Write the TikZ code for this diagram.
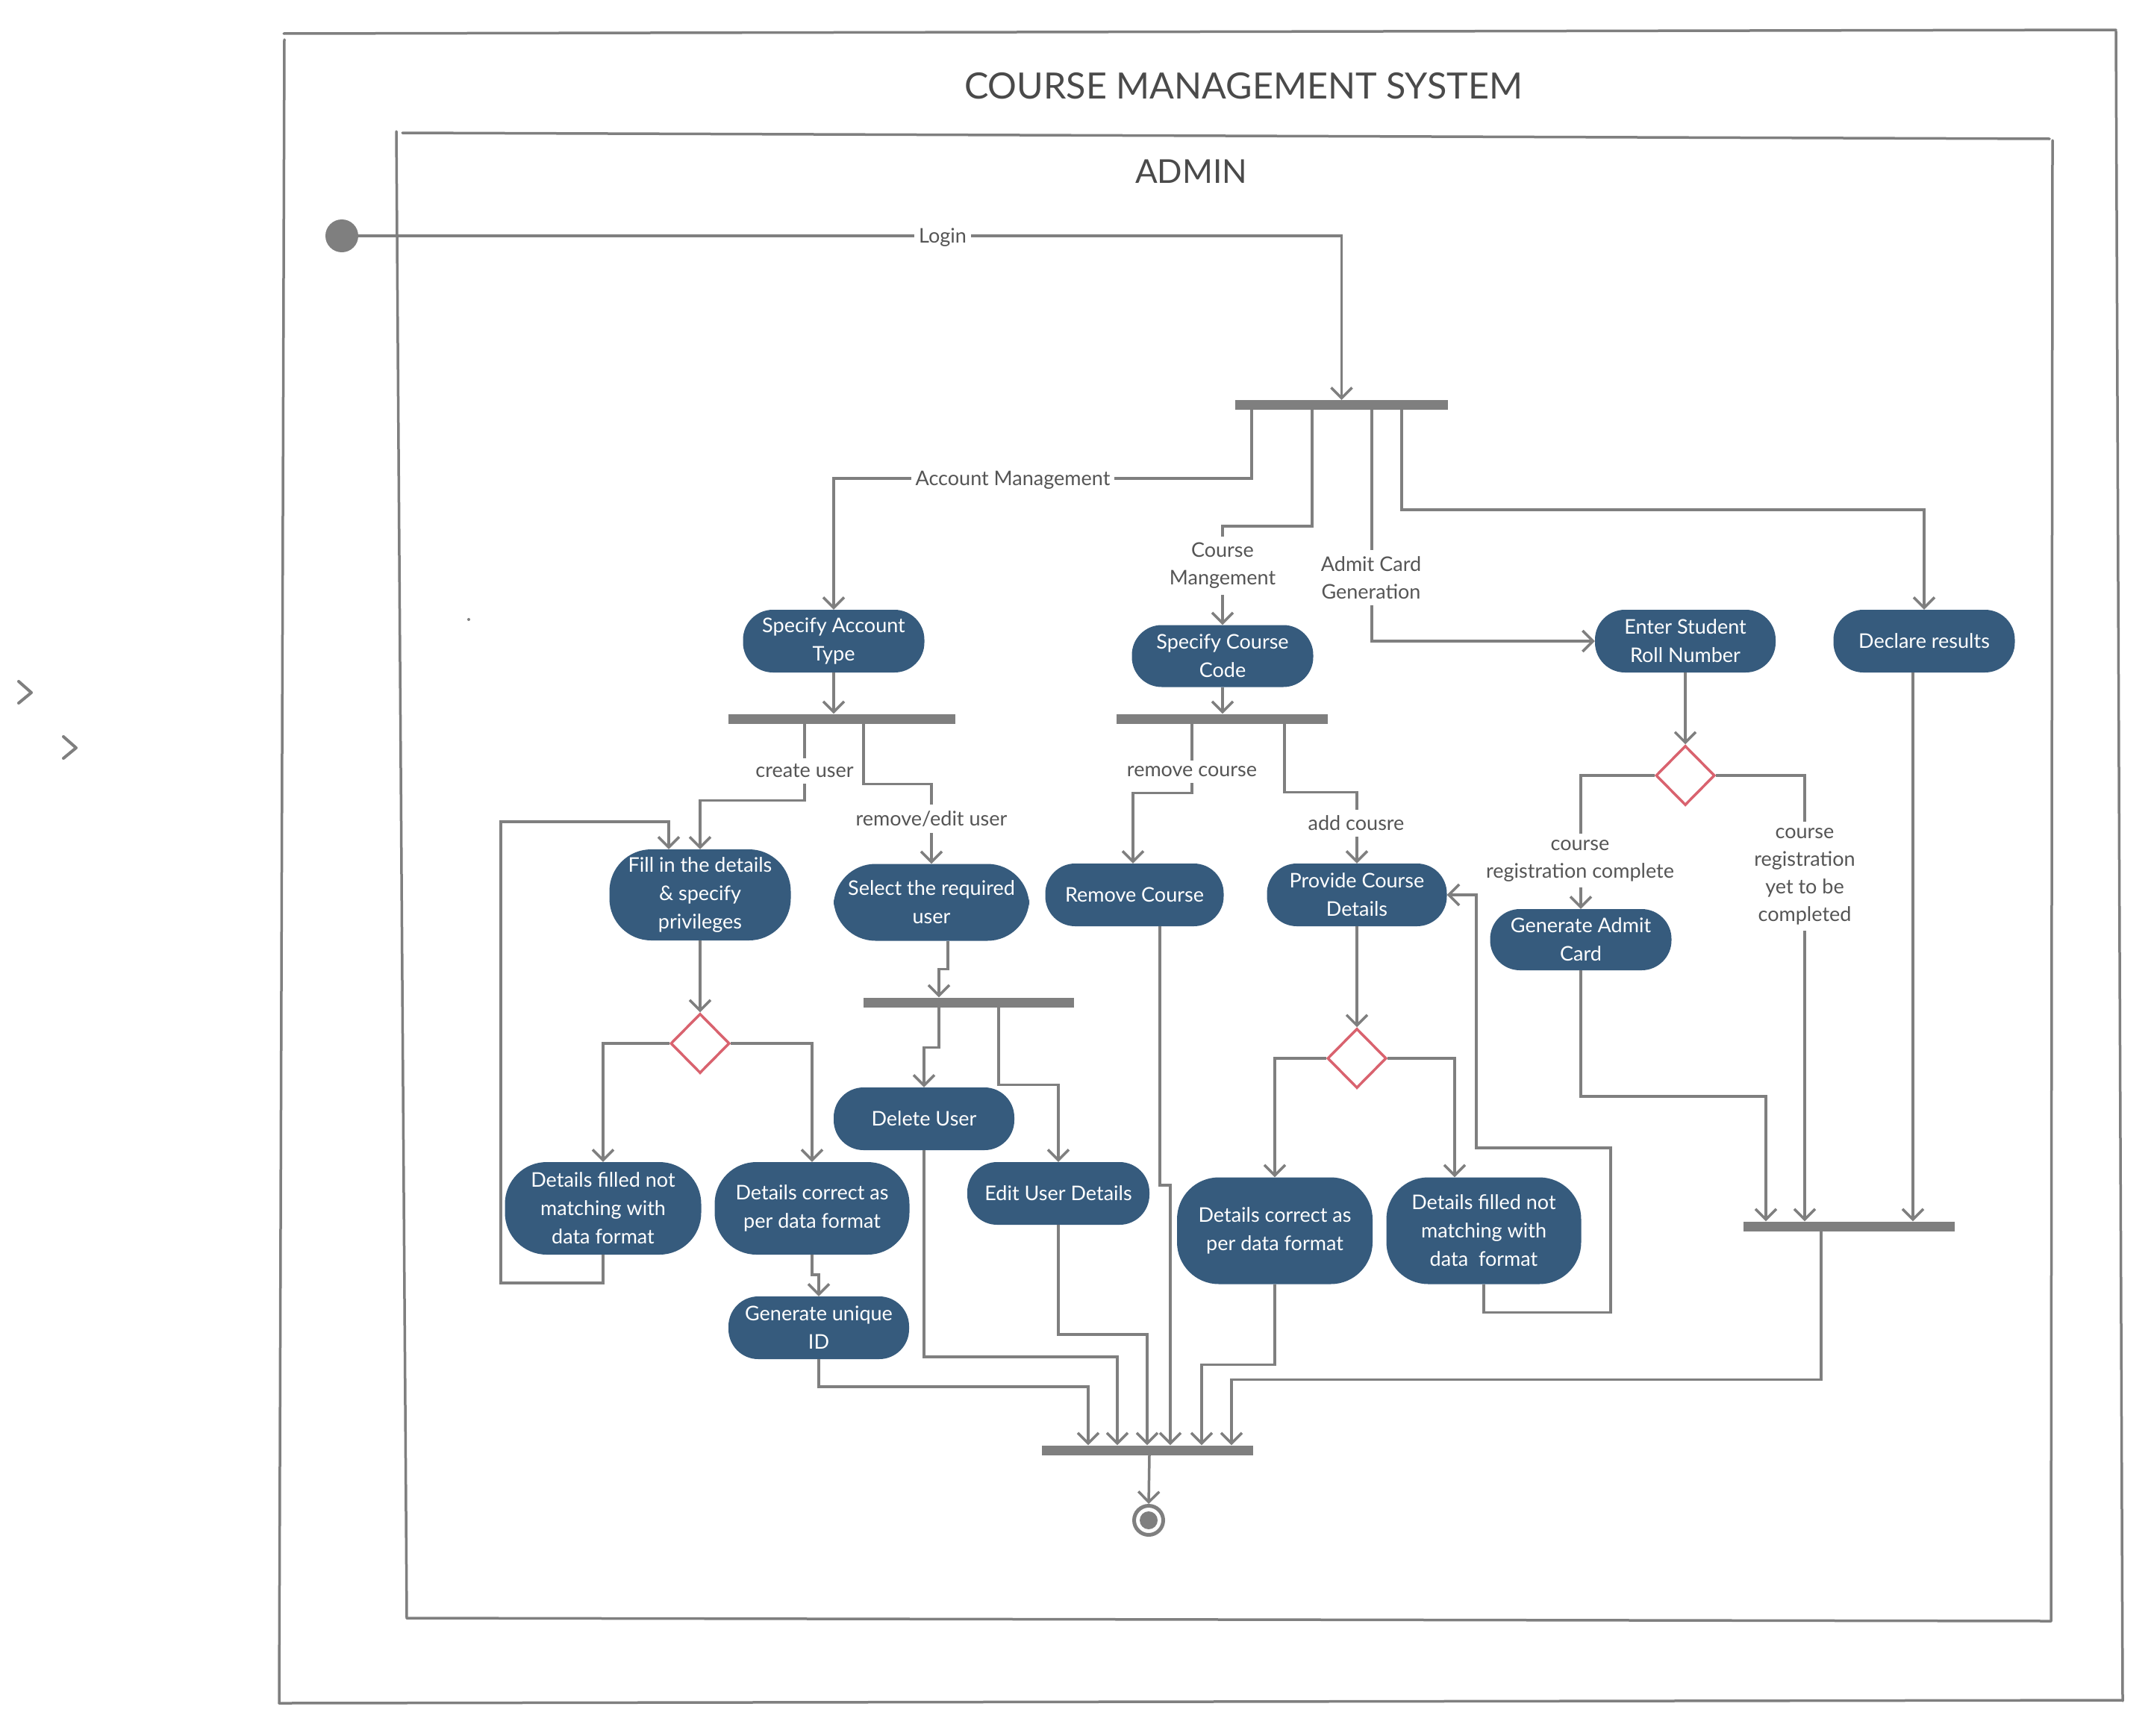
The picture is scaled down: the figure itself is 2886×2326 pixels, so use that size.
\documentclass[tikz,border=0pt]{standalone}
\usepackage{fontspec}
\setmainfont{Lato}
\usetikzlibrary{arrows.meta,shapes.geometric}
\definecolor{nblue}{HTML}{365B7D}
\definecolor{lgray}{HTML}{7F7F7F}
\definecolor{dred}{HTML}{D9636F}
\definecolor{tgray}{HTML}{4A4A4A}
\definecolor{lblgray}{HTML}{555555}
\begin{document}
\begin{tikzpicture}[x=1pt,y=-1pt,
  frame/.style={draw=lgray,line width=3.5pt,line cap=round},
  conn/.style={draw=lgray,line width=3.5pt},
  arr/.style={conn,-{Straight Barb[length=14pt,width=28pt]}},
  act/.style={fill=nblue,text=white,rounded corners=40pt,align=center,inner sep=0pt,
    font=\fontsize{27}{38}\selectfont},
  actbig/.style={act,rounded corners=56pt},
  bar/.style={fill=lgray,inner sep=0pt,minimum height=13pt},
  dec/.style={diamond,draw=dred,line width=3.5pt,fill=white,inner sep=0pt,minimum width=79pt,minimum height=80pt},
  lbl/.style={fill=white,text=lblgray,align=center,inner xsep=6pt,inner ysep=8pt,
    font=\fontsize{27}{37}\selectfont},
  chev/.style={draw=lgray,line width=4pt,line cap=round,line join=round}]
\useasboundingbox (0,0) rectangle (2886,2326);

% frames
\draw[frame] (380,45) -- (2835,40);
\draw[frame] (381,53) -- (374,2282);
\draw[frame] (2835,42) -- (2844,2279);
\draw[frame] (374,2282) -- (2844,2278);
\draw[frame] (539,178) -- (2746,186);
\draw[frame] (531,176) -- (545,2168);
\draw[frame] (2750,188) -- (2748,2172);
\draw[frame] (545,2168) -- (2748,2172);

\node[text=tgray,font=\fontsize{48.5}{58}\selectfont,inner sep=0pt] (title) at (1666,115) {COURSE MANAGEMENT SYSTEM};
\node[text=tgray,font=\fontsize{44}{52}\selectfont,inner sep=0pt] (admin) at (1596,230) {ADMIN};

% chevrons and stray dot
\draw[chev] (25,913) -- (42,928) -- (25,942);
\draw[chev] (85,987) -- (102,1002) -- (85,1016);
\fill[lgray] (628,830) circle (2pt);

% nodes
\node[circle,fill=lgray,minimum size=44pt,inner sep=0pt] (start) at (458,316) {};
\node[bar,minimum width=285pt] (bar1) at (1797.5,542.5) {};
\node[act,minimum width=243pt,minimum height=84pt] (spa) at (1117,859) {Specify Account\\Type};
\node[act,minimum width=243pt,minimum height=83pt] (scc) at (1638,879) {Specify Course\\Code};
\node[act,minimum width=242pt,minimum height=84pt] (esr) at (2258,859) {Enter Student\\Roll Number};
\node[act,minimum width=243pt,minimum height=84pt] (dres) at (2578,859) {Declare results};
\node[bar,minimum width=304pt] (bar2) at (1128,963) {};
\node[bar,minimum width=283pt] (bar3) at (1637.5,963) {};
\node[actbig,minimum width=243pt,minimum height=122pt] (fill) at (938,1199) {Fill in the details\\\& specify\\privileges};
\node[actbig,minimum width=262pt,minimum height=103pt] (sel) at (1248,1209) {Select the required\\user};
\node[act,minimum width=239pt,minimum height=84pt] (rmc) at (1520,1199) {Remove Course};
\node[act,minimum width=241pt,minimum height=84pt] (pcd) at (1818,1199) {Provide Course\\Details};
\node[dec] (dia3) at (2258,1039) {};
\node[act,minimum width=243pt,minimum height=82pt] (gac) at (2118,1259) {Generate Admit\\Card};
\node[bar,minimum width=282pt] (bar6) at (1298,1343) {};
\node[dec] (dia1) at (938,1398) {};
\node[dec] (dia2) at (1818,1418) {};
\node[act,minimum width=242pt,minimum height=84pt] (dul) at (1238,1499) {Delete User};
\node[act,minimum width=244pt,minimum height=84pt] (eud) at (1418,1599) {Edit User Details};
\node[actbig,minimum width=263pt,minimum height=124pt] (dfn1) at (808,1619) {Details filled not\\matching with\\data format};
\node[actbig,minimum width=261pt,minimum height=124pt] (dc1) at (1088,1619) {Details correct as\\per data format};
\node[act,minimum width=242pt,minimum height=84pt] (gui) at (1097,1779) {Generate unique\\ID};
\node[actbig,minimum width=262pt,minimum height=143pt] (dc2) at (1708,1649) {Details correct as\\per data format};
\node[actbig,minimum width=261pt,minimum height=143pt] (dfn2) at (1988,1649) {Details filled not\\matching with\\data~~format};
\node[bar,minimum width=283pt] (bar4) at (2477.5,1643) {};
\node[bar,minimum width=283pt] (bar5) at (1537.5,1943) {};
\node[circle,draw=lgray,line width=5pt,fill=white,minimum size=39pt,inner sep=0pt] (end) at (1539,2037) {};
\node[circle,fill=lgray,minimum size=24pt,inner sep=0pt] (endin) at (end.center) {};

% connectors
\draw[arr] (start.east) -| (bar1.north);
\draw[arr] (bar1.south -| 1677,0) -- ++(0,92) -| (spa.north);
\draw[arr] (bar1.south -| 1758,0) -- ++(0,156) -| (scc.north);
\draw[arr] (bar1.south -| 1838,0) |- (esr.west);
\draw[arr] (bar1.south -| 1878,0) -- ++(0,134) -| (dres.north);
\draw[arr] (spa.south) -- (spa.south |- bar2.north);
\draw[arr] (scc.south) -- (scc.south |- bar3.north);
\draw[arr] (bar2.south -| 1078,0) -- ++(0,103) -| (fill.north);
\draw[arr] (bar2.south -| 1157,0) -- ++(0,81) -| (sel.north);
\draw[arr] (dfn1.south) -- ++(0,38) -| (671,1101) -| (fill.north -| 896,0);
\draw[arr] (fill.south) -- (dia1.north);
\draw[arr] (dia1.west) -| (dfn1.north);
\draw[arr] (dia1.east) -| (dc1.north);
\draw[arr] (dc1.south) -- ++(0,27) -| (gui.north);
\draw[arr] (gui.south) -- ++(0,37) -| (bar5.north -| 1458,0);
\draw[arr] (sel.south -| 1270,0) -- ++(0,38) -| (bar6.north -| 1258,0);
\draw[arr] (bar6.south -| 1258,0) -- ++(0,54) -| (dul.north);
\draw[arr] (bar6.south -| 1338,0) -- ++(0,104) -| (eud.north);
\draw[arr] (dul.south) -- ++(0,277) -| (bar5.north -| 1497,0);
\draw[arr] (eud.south) -- ++(0,147) -| (bar5.north -| 1537,0);
\draw[arr] (bar3.south -| 1597,0) -- ++(0,93) -| (rmc.north -| 1518,0);
\draw[arr] (bar3.south -| 1721,0) -- ++(0,92) -| (pcd.north);
\draw[arr] (rmc.south -| 1554,0) -- ++(0,347) -| (bar5.north -| 1568,0);
\draw[arr] (pcd.south) -- (dia2.north);
\draw[arr] (dia2.west) -| (dc2.north);
\draw[arr] (dia2.east) -| (dfn2.north -| 1949,0);
\draw[arr] (dfn2.south) -- ++(0,38) -| (2158,1538) -- (1978,1538) |- (pcd.east);
\draw[arr] (dc2.south) -- ++(0,108) -| (bar5.north -| 1610,0);
\draw[arr] (esr.south) -- (dia3.north);
\draw[arr] (dia3.west) -| (gac.north);
\draw[arr] (dia3.east) -| (bar4.north -| 2418,0);
\draw[arr] (gac.south) -- ++(0,169) -| (bar4.north -| 2366,0);
\draw[arr] (dres.south -| 2563,0) -- (bar4.north -| 2563,0);
\draw[arr] (bar4.south -| 2440,0) -- ++(0,199) -| (bar5.north -| 1650,0);
\draw[arr] (bar5.south -| 1540,0) -- (end.north);

% labels
\node[lbl] (lLogin) at (1263,318) {Login};
\node[lbl] (lAcc) at (1357,643) {Account Management};
\node[lbl] (lCm) at (1638,758) {Course\\Mangement};
\node[lbl] (lAdm) at (1837,774) {Admit Card\\Generation};
\node[lbl] (lCu) at (1078,1033) {create user};
\node[lbl] (lRe) at (1248,1097) {remove/edit user};
\node[lbl] (lRc) at (1597,1034) {remove course};
\node[lbl] (lAc) at (1817,1103) {add cousre};
\node[lbl] (lCrc) at (2117,1153) {course\\registration complete};
\node[lbl] (lCry) at (2418,1174) {course\\registration\\yet to be\\completed};
\end{tikzpicture}
\end{document}
